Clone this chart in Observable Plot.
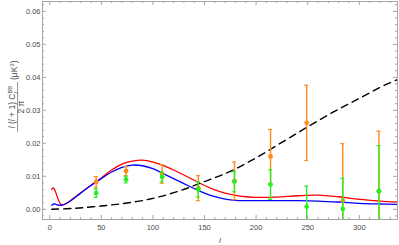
<!DOCTYPE html>
<html><head><meta charset="utf-8">
<script src="https://cdn.jsdelivr.net/npm/d3@7"></script>
<script src="https://cdn.jsdelivr.net/npm/@observablehq/plot@0.6"></script>
<style>body{margin:0;background:#fff;}</style>
</head><body><div id="chart"></div>
<script>
// Theory curves (multipole l vs l(l+1)C_l^BB/2π in μK²)
const curveL = [2,3,4,5,6,8,10,12,15,20,25,30,40,50,60,70,80,90,100,110,120,130,140,150,160,170,180,190,200,220,240,260,280,300,320,337];
const redCl  = [0.0060,0.0065,0.0064,0.0058,0.0050,0.0032,0.0018,0.0013,0.0016,0.0026,0.0038,0.0050,0.0073,0.0095,0.0119,0.0137,0.0146,0.0149,0.0143,0.0133,0.0119,0.0104,0.0088,0.0072,0.0059,0.0049,0.0042,0.0038,0.0036,0.0037,0.0041,0.0043,0.0038,0.0030,0.0025,0.0022];
const blueCl = [0.0012,0.0015,0.0016,0.0016,0.0015,0.0013,0.0012,0.0013,0.0016,0.0025,0.0037,0.0049,0.0072,0.0093,0.0113,0.0127,0.0134,0.0132,0.0123,0.0108,0.0093,0.0078,0.0063,0.0049,0.0038,0.0031,0.0027,0.0026,0.0026,0.0026,0.0026,0.0025,0.0022,0.0018,0.0016,0.0015];
const lensL  = [2,25,50,75,100,125,150,175,200,225,250,275,300,325,337];
const lensCl = [0,0.0003,0.0010,0.0019,0.0033,0.0055,0.0084,0.0115,0.0156,0.0203,0.0250,0.0295,0.0336,0.0377,0.0393];

// Binned data points with error bars
const binL      = [45,74,109,144,179,214,249,284,319];
const orangeVal = [0.0083,0.0116,0.0107,0.0064,0.0086,0.0160,0.0262,0.0026,0.0055];
const orangeErr = [0.0016,0.0014,0.0028,0.0038,0.0057,0.0082,0.0114,0.0173,0.0182];
const greenVal  = [0.0049,0.0090,0.0098,0.0060,0.0084,0.0075,0.0008,0.0001,0.0055];
const greenErr  = [0.0013,0.0010,0.0015,0.0023,0.0031,0.0045,0.0062,0.0093,0.0138];

// Ticks
const xMajor = [0,50,100,150,200,250,300];
const xMinor = d3.range(0, 340, 10).filter(v => v % 50 !== 0);
const yMajor = [0,0.01,0.02,0.03,0.04,0.05,0.06];
const yMinor = d3.range(-2, 64, 2).filter(v => v % 10 !== 0).map(v => v / 1000);
const xLabelText = "l";

const toRows = (xs, ys) => xs.map((x, i) => ({x, y: ys[i]}));
const red = toRows(curveL, redCl);
const blue = toRows(curveL, blueCl);
const lens = toRows(lensL, lensCl);
const orange = binL.map((l, i) => ({l, v: orangeVal[i], e: orangeErr[i]}));
const green = binL.map((l, i) => ({l, v: greenVal[i], e: greenErr[i]}));

const W = 399, H = 245, mL = 42, mR = 2, mT = 1, mB = 26;
const fH = H - mT - mB, fW = W - mL - mR;
const frameC = "#a6a6a6", textC = "#4a4a4a";

const errMarks = (rows, color) => [
  Plot.ruleX(rows, {x: "l", y1: d => d.v - d.e, y2: d => d.v + d.e, stroke: color, strokeWidth: 1.4, clip: true}),
  Plot.ruleY(rows, {y: d => d.v + d.e, x1: "l", x2: "l", insetLeft: -2, insetRight: -2, stroke: color, strokeWidth: 1.2, clip: true}),
  Plot.ruleY(rows, {y: d => d.v - d.e, x1: "l", x2: "l", insetLeft: -2, insetRight: -2, stroke: color, strokeWidth: 1.2, clip: true}),
  Plot.dot(rows, {x: "l", y: "v", r: 2.4, fill: color, stroke: "none"})
];

const chart = Plot.plot({
  width: W, height: H,
  marginLeft: mL, marginRight: mR, marginTop: mT, marginBottom: mB,
  style: {fontFamily: "'Liberation Sans', Arial, sans-serif", background: "#fff"},
  x: {domain: [-7, 337]},
  y: {domain: [-0.0031, 0.063]},
  marks: [
    Plot.line(red, {x: "x", y: "y", stroke: "#ff0000", strokeWidth: 1.3, curve: "catmull-rom", clip: true}),
    Plot.line(blue, {x: "x", y: "y", stroke: "#0000ff", strokeWidth: 1.3, curve: "catmull-rom", clip: true}),
    Plot.line(lens, {x: "x", y: "y", stroke: "#000", strokeWidth: 1.4, strokeDasharray: "7,5", curve: "catmull-rom", clip: true}),
    ...errMarks(orange, "#ff8c1a"),
    ...errMarks(green, "#2aee22"),
    Plot.frame({stroke: frameC}),
    Plot.ruleX(xMajor, {x: d => d, insetTop: fH - 4, stroke: frameC}),
    Plot.ruleX(xMinor, {x: d => d, insetTop: fH - 2, stroke: frameC}),
    Plot.ruleX(xMajor, {x: d => d, insetBottom: fH - 4, stroke: frameC}),
    Plot.ruleX(xMinor, {x: d => d, insetBottom: fH - 2, stroke: frameC}),
    Plot.ruleY(yMajor, {y: d => d, insetRight: fW - 4, stroke: frameC}),
    Plot.ruleY(yMinor, {y: d => d, insetRight: fW - 2, stroke: frameC}),
    Plot.ruleY(yMajor, {y: d => d, insetLeft: fW - 4, stroke: frameC}),
    Plot.ruleY(yMinor, {y: d => d, insetLeft: fW - 2, stroke: frameC}),
    Plot.axisX({ticks: xMajor, tickSize: 0, tickPadding: 5.5, tickFormat: d => String(d), fontSize: 7.5, color: textC, label: null}),
    Plot.axisY({ticks: yMajor, tickSize: 0, tickPadding: 2, tickFormat: d3.format(".2f"), fontSize: 7.5, color: textC, label: null}),
    Plot.text([xLabelText], {text: d => d, frameAnchor: "bottom", dy: 23, lineAnchor: "bottom", fontStyle: "italic", fontSize: 8, fill: textC})
  ]
});
document.getElementById("chart").appendChild(chart);

// Rotated y-axis label: l(l+1)C_l^BB / 2π (μK²)
const svg = d3.select(chart);
const g = svg.append("g").attr("fill", textC).attr("font-family", "'Liberation Sans', Arial, sans-serif").attr("font-size", 8.5);
const cy = 107;
const num = g.append("text").attr("transform", `translate(15.3,${cy}) rotate(-90)`).attr("text-anchor", "middle");
num.append("tspan").attr("font-style", "italic").text("l");
num.append("tspan").text(" (");
num.append("tspan").attr("font-style", "italic").text("l");
num.append("tspan").text(" + 1) C");
num.append("tspan").attr("font-size", 5.8).attr("dy", -3.8).text("BB");
num.append("tspan").attr("font-size", 5.8).attr("font-style", "italic").attr("dx", -7.8).attr("dy", 6.3).text("l");
g.append("line").attr("x1", 17.6).attr("x2", 17.6).attr("y1", cy - 25).attr("y2", cy + 25).attr("stroke", textC).attr("stroke-width", 0.6);
g.append("text").attr("transform", `translate(24.2,${cy}) rotate(-90)`).attr("text-anchor", "middle").text("2 \u03c0");
const unit = g.append("text").attr("transform", `translate(16.5,${cy - 27}) rotate(-90)`).attr("text-anchor", "start");
unit.append("tspan").text("(\u03bcK");
unit.append("tspan").attr("font-size", 5.8).attr("dy", -3).text("2");
unit.append("tspan").attr("dy", 3).text(")");
</script>
</body></html>
